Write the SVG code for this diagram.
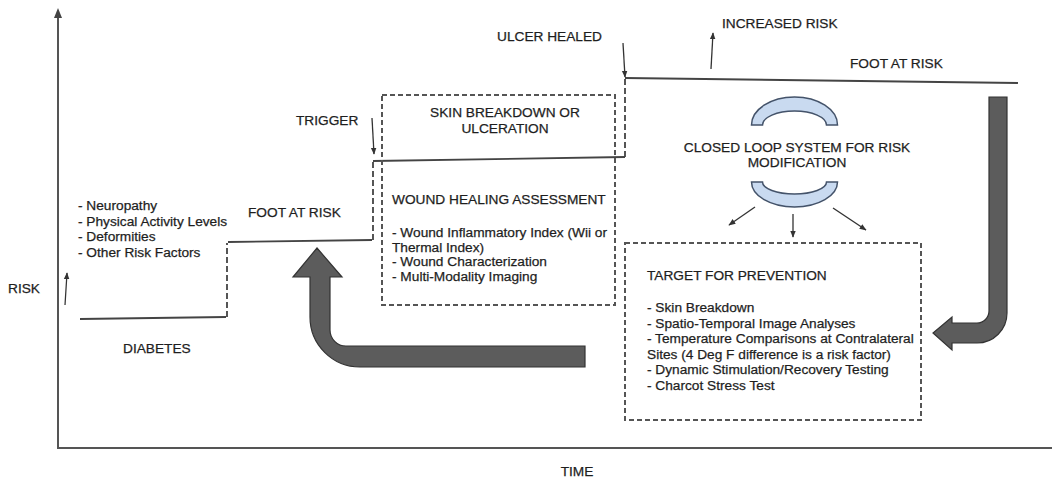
<svg xmlns="http://www.w3.org/2000/svg" width="1052" height="480" viewBox="0 0 1052 480">
<defs>
<style>
text{font-family:"Liberation Sans",Arial,sans-serif;font-size:13.7px;fill:#1e1e1e;stroke:#1e1e1e;stroke-width:0.25}
.mid{text-anchor:middle}
.axis{stroke:#555;stroke-width:2;fill:none}
.risk{stroke:#444;stroke-width:1.8;fill:none}
.riskd{stroke:#444;stroke-width:1.8;fill:none;stroke-dasharray:6 3}
.box{stroke:#555;stroke-width:2;fill:none;stroke-dasharray:5 3}
.thin{stroke:#333;stroke-width:1.3;fill:none}
.big{fill:#5c5c5c;stroke:#333;stroke-width:1.2}
.ring{fill:#c9daf0;stroke:#44536a;stroke-width:1.5}
</style>
<marker id="ah" viewBox="0 0 10 10" refX="9" refY="5" markerWidth="7" markerHeight="7" orient="auto" markerUnits="userSpaceOnUse">
<path d="M0,1 L10,5 L0,9 Z" fill="#333"/>
</marker>
</defs>
<rect width="1052" height="480" fill="#fff"/>

<g id="axes">
<line class="axis" x1="58" y1="448" x2="58" y2="16"/>
<path d="M58,8 L62,18 L54,18 Z" fill="#444"/>
<line class="axis" x1="57" y1="448" x2="1052" y2="448"/>
<text x="8" y="293">RISK</text>
<text x="577" y="476" class="mid">TIME</text>
</g>

<g id="connectors">
<path class="risk" d="M80,319 L226,317"/>
<path class="riskd" d="M227,317 L227,243"/>
<path class="risk" d="M228,242 L372,240"/>
<path class="riskd" d="M373,240 L373,162"/>
<path class="risk" d="M373,161 L625,157"/>
<path class="riskd" d="M625,157 L625,79"/>
<path class="risk" d="M625,78 L1018,83"/>
<line class="thin" x1="65" y1="305" x2="67" y2="273" marker-end="url(#ah)"/>
<line class="thin" x1="372" y1="118" x2="374" y2="154" marker-end="url(#ah)"/>
<line class="thin" x1="623" y1="43" x2="625" y2="77" marker-end="url(#ah)"/>
<line class="thin" x1="711" y1="69" x2="713" y2="33" marker-end="url(#ah)"/>
<line class="thin" x1="755" y1="207" x2="729" y2="225" marker-end="url(#ah)"/>
<line class="thin" x1="793" y1="214" x2="793" y2="237" marker-end="url(#ah)"/>
<line class="thin" x1="833" y1="208" x2="866" y2="230" marker-end="url(#ah)"/>
<path class="big" d="M317,248 L342,277 L330,277 L330,330 A16,16 0 0 0 346,346 L585,346 L585,367 L360,367 A50,50 0 0 1 310,317 L310,277 L293,277 Z"/>
<path class="big" d="M989,97 L1007,97 L1007,313 A30,30 0 0 1 977,343 L952,343 L952,350 L933,333 L952,317 L952,323 L977,323 A12,12 0 0 0 989,311 Z"/>
</g>

<g id="diabetes">
<text x="123" y="353">DIABETES</text>
</g>

<g id="risk-factors">
<text x="78" y="210">- Neuropathy</text>
<text x="78" y="225.5">- Physical Activity Levels</text>
<text x="78" y="241">- Deformities</text>
<text x="78" y="256.5">- Other Risk Factors</text>
</g>

<g id="foot-at-risk-1">
<text x="248" y="217">FOOT AT RISK</text>
</g>

<g id="trigger">
<text x="296" y="125">TRIGGER</text>
</g>

<g id="skin-breakdown">
<rect class="box" x="382" y="95" width="233" height="210"/>
<text x="505" y="117" class="mid">SKIN BREAKDOWN OR</text>
<text x="505" y="133" class="mid">ULCERATION</text>
<text x="392" y="204">WOUND HEALING ASSESSMENT</text>
<text x="392" y="237">- Wound Inflammatory Index (Wii or</text>
<text x="392" y="251.5">Thermal Index)</text>
<text x="392" y="266">- Wound Characterization</text>
<text x="392" y="281">- Multi-Modality Imaging</text>
</g>

<g id="ulcer-healed">
<text x="497" y="41">ULCER HEALED</text>
</g>

<g id="increased-risk">
<text x="722" y="28">INCREASED RISK</text>
</g>

<g id="foot-at-risk-2">
<text x="850" y="68">FOOT AT RISK</text>
</g>

<g id="closed-loop">
<path class="ring" d="M751.5,125 A43,28 0 0 1 837.5,125 L826.5,125 A32,14 0 0 0 762.5,125 Z"/>
<path class="ring" d="M751.5,182 A43,25 0 0 0 837.5,182 L826.5,182 A32,12 0 0 1 762.5,182 Z"/>
<text x="797" y="152" class="mid">CLOSED LOOP SYSTEM FOR RISK</text>
<text x="797" y="167" class="mid">MODIFICATION</text>
</g>

<g id="target">
<rect class="box" x="625" y="243" width="296" height="177"/>
<text x="647" y="280">TARGET FOR PREVENTION</text>
<text x="647" y="312">- Skin Breakdown</text>
<text x="647" y="327.5">- Spatio-Temporal Image Analyses</text>
<text x="647" y="343">- Temperature Comparisons at Contralateral</text>
<text x="647" y="358.5">Sites (4 Deg F difference is a risk factor)</text>
<text x="647" y="374">- Dynamic Stimulation/Recovery Testing</text>
<text x="647" y="389.5">- Charcot Stress Test</text>
</g>
</svg>
